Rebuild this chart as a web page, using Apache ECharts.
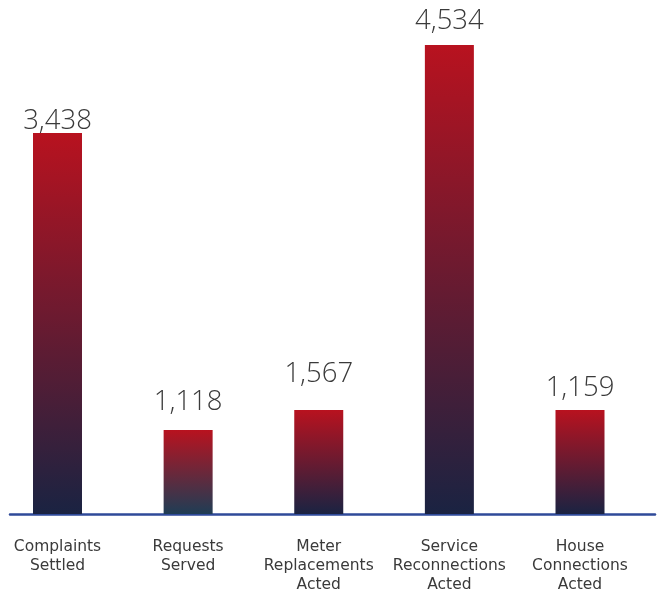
<!DOCTYPE html>
<html>
<head>
<meta charset="utf-8">
<script src="https://cdn.jsdelivr.net/npm/echarts@6/dist/echarts.min.js"></script>
<style>html,body{margin:0;padding:0;background:#fff}#c{width:660px;height:595px}</style>
</head>
<body>
<div id="c"></div>
<script>
// Category names (multi-line as in the reference)
const categories = ['Complaints\nSettled', 'Requests\nServed', 'Meter\nReplacements\nActed', 'Service\nReconnections\nActed', 'House\nConnections\nActed'];
// Values printed above each bar
const values = [3438, 1118, 1567, 4534, 1159];
// Drawn bar heights (the infographic bars are not to scale)
const barHeights = [381, 84, 104, 469, 104];
// Bottom colours of each bar's gradient
const bottomColors = ['#1a2342', '#1f3d55', '#1a2342', '#1a2342', '#1a2342'];
// Extra lift of each value label above its bar
const labelLift = [-8, 8, 16, 4, 2];

const chart = echarts.init(document.getElementById('c'), null, {renderer: 'canvas'});
const fmt = v => v.toLocaleString('en-US');
const numFont = "'Open Sans', 'Noto Sans', sans-serif";
const catFont = "'DejaVu Sans', sans-serif";

chart.setOption({
  animation: false,
  grid: [
    {left: 57.5, right: 80, top: 14, bottom: 81},
    {left: 10, right: 5, top: 514, bottom: 81}
  ],
  xAxis: [
    {
      type: 'category', gridIndex: 0, data: categories, boundaryGap: false,
      axisLine: {show: false}, axisTick: {show: false},
      axisLabel: {
        interval: 0, margin: 23, color: '#3a3a3a', fontSize: 15.5, lineHeight: 19,
        fontFamily: catFont, verticalAlign: 'top'
      }
    },
    {
      type: 'value', gridIndex: 1, min: 0, max: 1,
      axisLine: {show: true, onZero: false, lineStyle: {color: '#2f4a99', width: 2.5}},
      axisTick: {show: false}, axisLabel: {show: false}, splitLine: {show: false}
    }
  ],
  yAxis: [
    {type: 'value', gridIndex: 0, min: 0, max: 500, show: false, splitLine: {show: false}},
    {type: 'value', gridIndex: 1, min: 0, max: 1, show: false}
  ],
  series: [{
    type: 'bar',
    xAxisIndex: 0, yAxisIndex: 0,
    barWidth: 49,
    data: barHeights.map((h, i) => ({
      value: h,
      itemStyle: {
        color: new echarts.graphic.LinearGradient(0, 0, 0, 1, [
          {offset: 0, color: '#b8121f'},
          {offset: 1, color: bottomColors[i]}
        ])
      },
      label: {distance: 6 + labelLift[i]}
    })),
    label: {
      show: true, position: 'top',
      formatter: p => fmt(values[p.dataIndex]),
      fontSize: 27.5, fontFamily: numFont, fontWeight: 300, color: '#3a3a3a'
    }
  }]
});
</script>
</body>
</html>
